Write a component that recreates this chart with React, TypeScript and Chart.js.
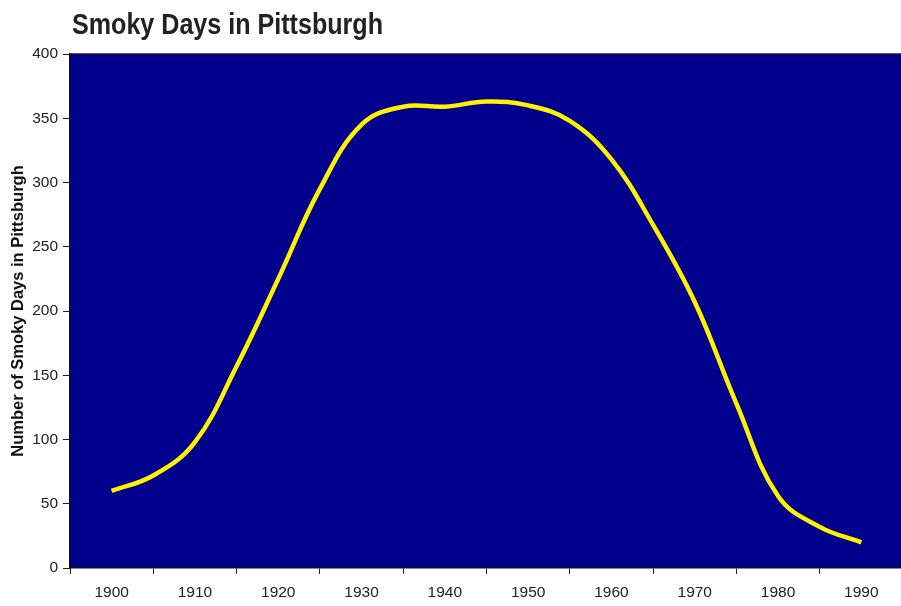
import React, { useEffect, useRef } from "react";
import { Chart, registerables } from "chart.js";

Chart.register(...registerables);

const chartTitle = "Smoky Days in Pittsburgh";
const yAxisTitle = "Number of Smoky Days in Pittsburgh";
const years = [1900, 1905, 1910, 1915, 1920, 1925, 1930, 1935, 1940, 1945, 1950, 1955, 1960, 1965, 1970, 1975, 1980, 1985, 1990];
const smokyDays = [60, 72, 98, 157, 225, 295, 345, 359, 359, 363, 360, 348, 318, 267, 207, 128, 56, 32, 20];
const yTicks = [0, 50, 100, 150, 200, 250, 300, 350, 400];
const decadeLabels = [1900, 1910, 1920, 1930, 1940, 1950, 1960, 1970, 1980, 1990];

const FONT = "'Liberation Sans', Arial, sans-serif";

const plotBg = {
  id: "plotBg",
  beforeDraw(chart: any) {
    const { ctx, chartArea } = chart;
    ctx.save();
    ctx.fillStyle = "#00008C";
    ctx.fillRect(chartArea.left, chartArea.top, chartArea.right - chartArea.left, chartArea.bottom - chartArea.top);
    ctx.strokeStyle = "#1a1a2a";
    ctx.lineWidth = 1.5;
    ctx.beginPath();
    ctx.moveTo(chartArea.left, chartArea.top);
    ctx.lineTo(chartArea.right, chartArea.top);
    ctx.stroke();
    ctx.restore();
  },
  afterDraw(chart: any) {
    const { ctx } = chart;
    ctx.save();
    ctx.font = `bold 30px ${FONT}`;
    ctx.fillStyle = "#222";
    ctx.textBaseline = "alphabetic";
    ctx.textAlign = "left";
    const w = ctx.measureText(chartTitle).width;
    const sx = 311 / w;
    ctx.translate(72, 34);
    ctx.scale(sx, 1);
    ctx.fillText(chartTitle, 0, 0);
    ctx.restore();
  },
};

export default function App() {
  const ref = useRef<HTMLCanvasElement>(null);
  useEffect(() => {
    if (!ref.current) return;
    const chart = new Chart(ref.current, {
      type: "line",
      data: {
        datasets: [
          {
            label: "Smoky Days",
            data: years.map((y, i) => ({ x: y, y: smokyDays[i] })),
            borderColor: "#FFF200",
            borderWidth: 4.5,
            pointRadius: 0,
            tension: 0.4,
            fill: false,
          },
        ],
      },
      options: {
        responsive: false,
        animation: false,
        layout: { padding: { left: 0, right: 3, top: 54, bottom: 0 } },
        plugins: {
          legend: { display: false },
          tooltip: { enabled: false },
          title: { display: false },
        },
        scales: {
          x: {
            type: "linear",
            min: 1895,
            max: 1995,
            afterBuildTicks(scale: any) {
              const t: any[] = [];
              decadeLabels.forEach((d) => {
                t.push({ value: d - 5 });
                t.push({ value: d });
              });
              t.push({ value: 1995 });
              scale.ticks = t;
            },
            afterFit(scale: any) {
              scale.height = 38;
            },
            ticks: {
              autoSkip: false,
              maxRotation: 0,
              padding: 9,
              color: "#222",
              font: { family: FONT, size: 15.5 },
              callback: (v: any) => (decadeLabels.includes(Number(v)) ? String(v) : ""),
            },
            grid: {
              drawOnChartArea: false,
              drawTicks: true,
              tickLength: 6,
              color: (c: any) => (c.tick && Number(c.tick.value) % 10 === 5 ? "#222" : "rgba(0,0,0,0)"),
            },
            border: { display: true, color: "#111", width: 1.5 },
          },
          y: {
            min: 0,
            max: 400,
            afterBuildTicks(scale: any) {
              scale.ticks = yTicks.map((v) => ({ value: v }));
            },
            afterFit(scale: any) {
              scale.width = 70;
            },
            title: {
              display: true,
              text: yAxisTitle,
              color: "#111",
              font: { family: FONT, size: 16.5, weight: "bold" },
              padding: { top: 9, bottom: 0 },
            },
            ticks: {
              padding: 5,
              color: "#222",
              font: { family: FONT, size: 15.5 },
            },
            grid: {
              drawOnChartArea: false,
              drawTicks: true,
              tickLength: 7,
              color: "#222",
            },
            border: { display: true, color: "#111", width: 1.5 },
          },
        },
      },
      plugins: [plotBg],
    });
    return () => chart.destroy();
  }, []);
  return (
    <div style={{ position: "absolute", left: 0, top: 0, width: 901, height: 606, overflow: "hidden", background: "#fff" }}>
      <canvas ref={ref} width={912} height={606} style={{ display: "block" }} />
    </div>
  );
}
